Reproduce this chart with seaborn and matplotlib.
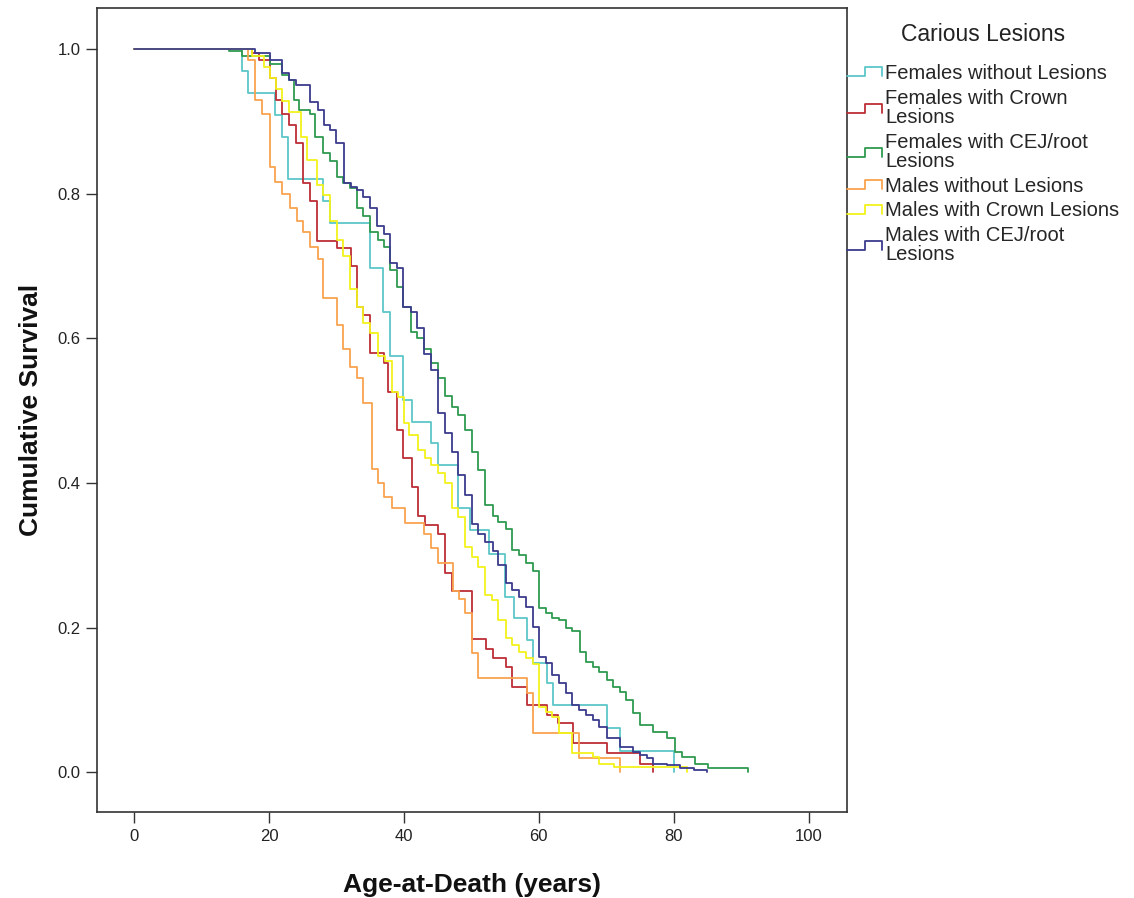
import numpy as np
import pandas as pd
import matplotlib
matplotlib.use("Agg")
import matplotlib.pyplot as plt
import seaborn as sns
from matplotlib.lines import Line2D
from matplotlib.legend_handler import HandlerBase

# Kaplan-Meier step values (age, cumulative survival)
groups = [
    "Females without Lesions",
    "Females with Crown Lesions",
    "Females with CEJ/root Lesions",
    "Males without Lesions",
    "Males with Crown Lesions",
    "Males with CEJ/root Lesions",
]
legend_labels = [
    "Females without Lesions",
    "Females with Crown\nLesions",
    "Females with CEJ/root\nLesions",
    "Males without Lesions",
    "Males with Crown Lesions",
    "Males with CEJ/root\nLesions",
]
colors = ["#5CC6C8", "#BD2E37", "#2F9A4F", "#F9A24E", "#F2F21C", "#3C3C8E"]

fem_none_age = [16.0, 16.9, 20.9, 21.9, 22.8, 28.0, 29.1, 35.0, 36.9, 38.0, 39.9, 41.2,
                44.0, 45.0, 48.0, 49.8, 52.6, 55.0, 56.4, 58.3, 59.2, 61.2, 62.1, 70.1,
                72.0, 80.0]
fem_none_surv = [0.97, 0.94, 0.909, 0.879, 0.82, 0.79, 0.76, 0.697, 0.636, 0.575, 0.515, 0.485,
                 0.456, 0.425, 0.366, 0.335, 0.302, 0.242, 0.213, 0.183, 0.151, 0.123, 0.093, 0.061,
                 0.03, 0.0]

fem_crown_age = [17.5, 18.5, 20.2, 21.0, 22.0, 23.0, 24.0, 25.0, 26.1, 27.1, 30.1, 32.1,
                 33.1, 34.0, 35.0, 37.0, 37.7, 39.0, 39.9, 41.2, 42.1, 43.1, 45.0, 46.1,
                 47.1, 50.1, 52.2, 53.2, 55.1, 56.1, 58.2, 61.2, 62.9, 65.1, 70.1, 75.0, 77.0]
fem_crown_surv = [0.995, 0.985, 0.96, 0.93, 0.91, 0.895, 0.87, 0.815, 0.79, 0.735, 0.725, 0.70,
                  0.643, 0.632, 0.58, 0.566, 0.526, 0.473, 0.434, 0.394, 0.354, 0.342, 0.329, 0.275,
                  0.25, 0.184, 0.171, 0.158, 0.145, 0.118, 0.093, 0.079, 0.068, 0.04, 0.026, 0.012, 0.0]

fem_cej_age = [14.0, 16.0, 20.2, 22.0, 23.0, 23.7, 24.5, 26.1, 26.8, 28.0, 29.1, 30.1, 31.0,
               32.0, 33.0, 34.0, 35.0, 36.1, 37.0, 38.0, 39.0, 39.9, 41.0, 42.0, 43.0, 44.0,
               45.0, 46.1, 47.1, 48.0, 49.1, 50.1, 51.0, 52.1, 53.2, 54.0, 55.1, 56.1, 57.0,
               58.1, 59.1, 60.0, 61.0, 62.0, 63.0, 64.0, 65.0, 66.1, 67.0, 68.0, 69.0, 70.1,
               71.0, 72.0, 73.0, 74.0, 75.0, 77.0, 79.0, 80.2, 81.2, 83.1, 85.1, 91.0]
fem_cej_surv = [0.997, 0.99, 0.98, 0.964, 0.957, 0.93, 0.916, 0.911, 0.878, 0.856, 0.846, 0.823, 0.815,
                0.808, 0.781, 0.770, 0.747, 0.736, 0.726, 0.694, 0.671, 0.643, 0.609, 0.600, 0.586, 0.566,
                0.545, 0.521, 0.505, 0.494, 0.473, 0.443, 0.418, 0.369, 0.355, 0.346, 0.337, 0.307, 0.300,
                0.290, 0.279, 0.227, 0.22, 0.214, 0.21, 0.20, 0.196, 0.166, 0.152, 0.145, 0.138, 0.127,
                0.118, 0.111, 0.10, 0.082, 0.065, 0.055, 0.048, 0.028, 0.021, 0.012, 0.006, 0.0]

male_none_age = [16.9, 18.0, 19.0, 20.2, 20.9, 21.9, 23.1, 24.2, 25.0, 26.1, 27.2, 28.0,
                 30.1, 31.0, 32.0, 33.0, 34.0, 35.2, 36.1, 37.0, 38.2, 40.1, 43.0, 44.0,
                 45.0, 47.3, 48.2, 49.0, 50.1, 51.0, 58.2, 59.1, 66.0, 72.0]
male_none_surv = [0.985, 0.93, 0.91, 0.837, 0.816, 0.80, 0.78, 0.763, 0.747, 0.726, 0.71, 0.656,
                  0.618, 0.585, 0.56, 0.545, 0.51, 0.42, 0.40, 0.38, 0.365, 0.345, 0.33, 0.31,
                  0.29, 0.25, 0.24, 0.22, 0.165, 0.13, 0.109, 0.054, 0.019, 0.0]

male_crown_age = [17.5, 19.3, 20.2, 21.1, 22.0, 23.0, 24.8, 25.7, 27.1, 28.0, 29.1, 30.1,
                  31.0, 32.0, 33.1, 34.0, 35.0, 36.1, 37.2, 38.2, 39.1, 40.0, 40.8, 42.1,
                  43.1, 44.0, 45.0, 46.1, 47.1, 48.0, 49.1, 50.1, 51.0, 52.1, 53.1, 54.0,
                  55.1, 56.1, 57.0, 58.1, 59.1, 60.0, 61.0, 62.0, 63.0, 65.0, 68.0, 69.0,
                  71.2, 82.0]
male_crown_surv = [0.99, 0.975, 0.96, 0.945, 0.928, 0.913, 0.879, 0.847, 0.812, 0.798, 0.763, 0.736,
                   0.714, 0.668, 0.643, 0.622, 0.608, 0.576, 0.569, 0.526, 0.519, 0.483, 0.466, 0.446,
                   0.434, 0.425, 0.414, 0.40, 0.365, 0.353, 0.311, 0.297, 0.284, 0.245, 0.238, 0.21,
                   0.185, 0.176, 0.166, 0.158, 0.15, 0.09, 0.083, 0.076, 0.054, 0.026, 0.021, 0.012,
                   0.007, 0.0]

male_cej_age = [18.0, 20.2, 22.0, 23.0, 24.0, 26.1, 27.2, 28.2, 29.1, 30.0, 31.1, 32.1,
                33.0, 34.0, 35.0, 36.0, 37.0, 38.0, 39.0, 39.9, 41.0, 42.0, 43.0, 44.0,
                45.0, 46.1, 47.1, 48.0, 49.1, 50.1, 51.0, 52.1, 53.2, 54.0, 55.1, 56.1,
                57.0, 58.1, 59.1, 60.0, 61.0, 62.0, 63.0, 64.0, 65.0, 66.0, 67.0, 68.0,
                69.0, 70.1, 72.0, 74.0, 75.0, 76.0, 77.0, 79.0, 81.0, 83.0, 85.0]
male_cej_surv = [0.995, 0.985, 0.967, 0.958, 0.95, 0.927, 0.916, 0.895, 0.888, 0.87, 0.815, 0.81,
                 0.805, 0.795, 0.78, 0.755, 0.745, 0.705, 0.698, 0.643, 0.636, 0.614, 0.579, 0.556,
                 0.497, 0.469, 0.443, 0.411, 0.384, 0.343, 0.329, 0.318, 0.306, 0.286, 0.262, 0.252,
                 0.243, 0.228, 0.201, 0.159, 0.151, 0.134, 0.123, 0.109, 0.093, 0.086, 0.079, 0.072,
                 0.062, 0.047, 0.035, 0.028, 0.024, 0.019, 0.012, 0.01, 0.006, 0.003, 0.0]

x_ticks = [0, 20, 40, 60, 80, 100]
y_ticks = [0.0, 0.2, 0.4, 0.6, 0.8, 1.0]

series = [
    (fem_none_age, fem_none_surv),
    (fem_crown_age, fem_crown_surv),
    (fem_cej_age, fem_cej_surv),
    (male_none_age, male_none_surv),
    (male_crown_age, male_crown_surv),
    (male_cej_age, male_cej_surv),
]

frames = []
for name, (ages, surv) in zip(groups, series):
    frames.append(pd.DataFrame({
        "age": [0.0] + list(ages),
        "survival": [1.0] + list(surv),
        "group": name,
    }))
df = pd.concat(frames, ignore_index=True)


class StepHandler(HandlerBase):
    """Legend glyph drawn as a small survival step."""
    def create_artists(self, legend, orig_handle, xdescent, ydescent,
                       width, height, fontsize, trans):
        lo, hi = 0.15 * height, 0.85 * height
        xs = np.array([0, 0.5 * width, 0.5 * width, width, width]) - xdescent
        ys = np.array([lo, lo, hi, hi, lo]) - ydescent
        line = Line2D(xs, ys, color=orig_handle.get_color(),
                      lw=orig_handle.get_linewidth())
        line.set_transform(trans)
        return [line]


sns.set_theme(style="white")
plt.rcParams["font.family"] = ["Liberation Sans", "DejaVu Sans"]

fig = plt.figure(figsize=(11.34, 8.98), dpi=100)
ax = fig.add_axes([97 / 1134, 1 - 812 / 898, 750 / 1134, 804 / 898])

palette = dict(zip(groups, colors))
sns.lineplot(data=df, x="age", y="survival", hue="group", hue_order=groups,
             palette=palette, estimator=None, drawstyle="steps-post",
             linewidth=1.3, legend=False, ax=ax)

ax.set_xlim(-5.5, 105.7)
ax.set_ylim(-0.055, 1.057)
ax.set_xticks(x_ticks)
ax.set_xticklabels([str(t) for t in x_ticks])
ax.set_yticks(y_ticks)
ax.set_yticklabels([f"{t:.1f}" for t in y_ticks])
ax.tick_params(axis="both", direction="out", length=8, width=1, color="#333333",
               labelsize=12, labelcolor="#222222", pad=4)
ax.tick_params(axis="x", bottom=True)
ax.tick_params(axis="y", left=True)
for spine in ax.spines.values():
    spine.set_visible(True)
    spine.set_color("#333333")
    spine.set_linewidth(1.2)

label_font = dict(family=["Liberation Sans Narrow", "Liberation Sans", "DejaVu Sans"],
                  fontsize=19, fontweight="bold", color="#111111")
ax.set_xlabel("Age-at-Death (years)", labelpad=21, **label_font)
ax.set_ylabel("Cumulative Survival", labelpad=10, **label_font)
ax.grid(False)

handles = [Line2D([], [], color=c, lw=1.3) for c in colors]
leg = fig.legend(handles, legend_labels, title="Carious Lesions",
                 loc="upper left", bbox_to_anchor=(847 / 1134, 1 - 23 / 898),
                 frameon=False, handler_map={Line2D: StepHandler()},
                 handlelength=1.75, handleheight=0.6, handletextpad=0.15,
                 labelspacing=0.29, fontsize=14.5, title_fontsize=16.5,
                 borderaxespad=0, borderpad=0)
leg.get_title().set_color("#222222")
leg._legend_box.sep = 13
for t in leg.get_texts():
    t.set_linespacing(1.0)

fig.savefig("out.png", dpi=100)
plt.close(fig)
